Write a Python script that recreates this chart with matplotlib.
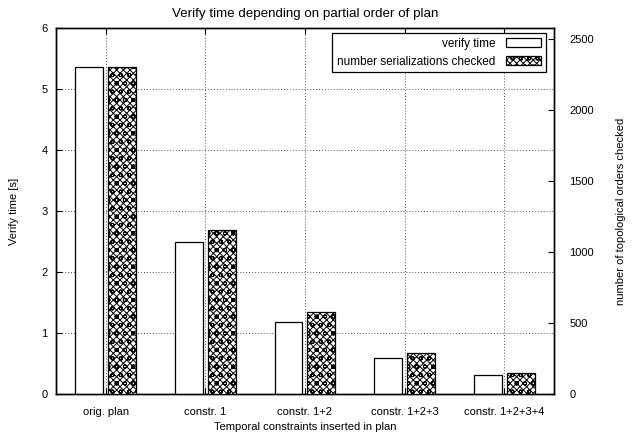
import numpy as np
import matplotlib
matplotlib.use("Agg")
import matplotlib.pyplot as plt

plt.rcParams["font.family"] = ["Liberation Sans", "DejaVu Sans"]
plt.rcParams["font.size"] = 8
plt.rcParams["hatch.linewidth"] = 0.7

categories = ["orig. plan", "constr. 1", "constr. 1+2", "constr. 1+2+3", "constr. 1+2+3+4"]
verify_time = [5.37, 2.49, 1.19, 0.60, 0.31]
serializations = [2305, 1154, 577, 293, 147]

fig = plt.figure(figsize=(6.34, 4.41), dpi=100)
ax = fig.add_axes([0.0883, 0.106, 0.7855, 0.830])
ax2 = ax.twinx()

x = np.arange(len(categories))
w = 0.28
b1 = ax.bar(x - 0.165, verify_time, w, color="white", edgecolor="black", linewidth=0.9,
            label="verify time", zorder=3)
b2 = ax2.bar(x + 0.165, serializations, w, color="white", edgecolor="black", linewidth=0.9,
             hatch="xxxxxoo", label="number serializations checked", zorder=3)

ax.set_xlim(-0.5, 4.5)
ax.set_ylim(0, 6)
ax2.set_ylim(0, 2575)
ax.set_xticks(x)
ax.set_xticklabels(categories)
ax.set_yticks(range(0, 7))
ax2.set_yticks(range(0, 2501, 500))

ax.set_axisbelow(True)
ax.grid(True, linestyle=(0, (1, 2)), color="#555555", linewidth=0.7)

ax.tick_params(axis="x", direction="in", top=True, length=4, pad=9)
ax.tick_params(axis="y", direction="in", length=4, pad=6)
ax2.tick_params(axis="y", direction="in", length=4, pad=11)
for a in (ax, ax2):
    for s in a.spines.values():
        s.set_linewidth(1.0)

ax.set_title("Verify time depending on partial order of plan", pad=8)
ax.set_xlabel("Temporal constraints inserted in plan", labelpad=4)
ax.set_ylabel("Verify time [s]", labelpad=16)
ax2.set_ylabel("number of topological orders checked", labelpad=16)

leg = ax2.legend([b1, b2], ["verify time", "number serializations checked"],
                 loc="upper right", bbox_to_anchor=(0.984, 0.987),
                 markerfirst=False, fancybox=False, fontsize=8.5,
                 framealpha=1, edgecolor="black", handlelength=3.0, handleheight=0.8,
                 handletextpad=0.9, borderaxespad=0, labelspacing=0.5, borderpad=0.4)
leg.get_frame().set_linewidth(0.9)

fig.savefig("out.png", dpi=100)
